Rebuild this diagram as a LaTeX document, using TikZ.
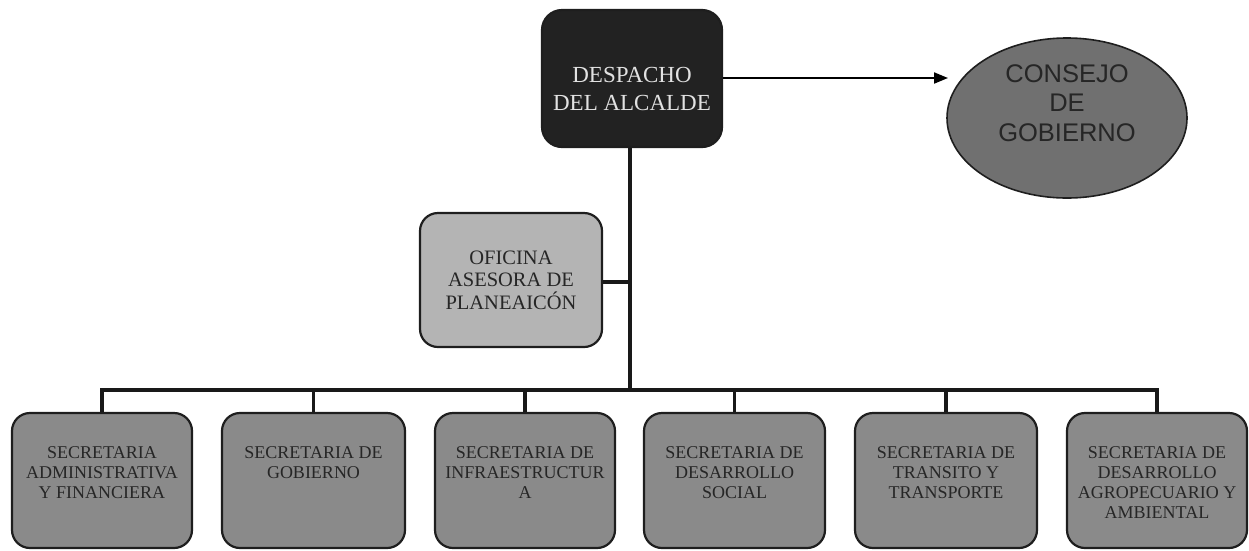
\documentclass[tikz,border=0pt]{standalone}
\usepackage{fontspec}
\setmainfont{Liberation Serif}
\newfontfamily\arialfont{Liberation Sans}
\usetikzlibrary{shapes.geometric,arrows.meta}
\definecolor{edgec}{HTML}{1E1E1E}
\definecolor{darkbox}{HTML}{222222}
\definecolor{lighttxt}{HTML}{E2E2E2}
\definecolor{midbox}{HTML}{8A8A8A}
\definecolor{lightbox}{HTML}{B4B4B4}
\definecolor{ellfill}{HTML}{707070}
\definecolor{txtc}{HTML}{262626}
\tikzset{
  boxbase/.style={draw=edgec, line width=2.2pt, rounded corners=18pt, inner sep=0pt},
  secbox/.style={boxbase, fill=midbox, minimum width=180pt, minimum height=135pt},
  sectext/.style={anchor=north, inner sep=0pt, align=center, text=txtc, font=\fontsize{18}{20.3}\selectfont},
  conn/.style={line width=3.2pt, draw=black!90},
}
\begin{document}
\begin{tikzpicture}[x=1pt,y=-1pt]
\useasboundingbox (0,0) rectangle (1249,550);
% top
\node[boxbase, fill=darkbox, minimum width=180pt, minimum height=137pt,
      rounded corners=20pt] (desp) at (632,78.5) {};
\node[align=center, text=lighttxt, font=\fontsize{23}{28}\selectfont, inner sep=0pt] (desptxt) at (632,89) {DESPACHO\\DEL ALCALDE};
\node[ellipse, draw=edgec, line width=1.6pt, fill=ellfill, minimum width=240pt, minimum height=160pt, inner sep=0pt] (cons) at (1067,118) {};
\node[align=center, text=txtc, font=\arialfont\fontsize{25.5}{29.5}\selectfont, inner sep=0pt] (constxt) at (1067,103) {CONSEJO\\DE\\GOBIERNO};
\coordinate (constip) at (948,78);
\draw[line width=2pt, -{Triangle[length=14pt,width=11pt]}] (desp.east |- constip) -- (constip);
% oficina
\node[boxbase, fill=lightbox, minimum width=182pt, minimum height=134pt, align=center,
      text=txtc, font=\fontsize{20.5}{22.6}\selectfont] (ofi) at (511,280) {OFICINA\\ASESORA DE\\PLANEAICÓN};
% secretarias
\node[secbox] (s1) at (102,480.5) {};
\node[secbox, minimum width=183pt] (s2) at (313.5,480.5) {};
\node[secbox] (s3) at (525,480.5) {};
\node[secbox, minimum width=181pt] (s4) at (734.5,480.5) {};
\node[secbox, minimum width=182pt] (s5) at (946,480.5) {};
\node[secbox] (s6) at (1157,480.5) {};
\node[sectext] (t1) at ([yshift=-34pt]s1.north) {SECRETARIA\\ADMINISTRATIVA\\Y FINANCIERA};
\node[sectext] (t2) at ([yshift=-34pt]s2.north) {SECRETARIA DE\\GOBIERNO};
\node[sectext] (t3) at ([yshift=-34pt]s3.north) {SECRETARIA DE\\INFRAESTRUCTUR\\A};
\node[sectext] (t4) at ([yshift=-34pt]s4.north) {SECRETARIA DE\\DESARROLLO\\SOCIAL};
\node[sectext] (t5) at ([yshift=-34pt]s5.north) {SECRETARIA DE\\TRANSITO Y\\TRANSPORTE};
\node[sectext] (t6) at ([yshift=-34pt]s6.north) {SECRETARIA DE\\DESARROLLO\\AGROPECUARIO Y\\AMBIENTAL};
% connectors
\coordinate (busmid) at (630,390);
\coordinate (ofij) at (630,282);
\draw[conn] (desp.south -| busmid) -- (busmid);
\draw[conn] (ofi.east |- ofij) -- (ofij);
\draw[conn, line cap=rect] (s1.north |- busmid) -- (s6.north |- busmid);
\foreach \s in {s1,s2,s3,s4,s5,s6}{
  \draw[conn] (\s.north |- busmid) -- (\s.north);
}
\end{tikzpicture}
\end{document}
